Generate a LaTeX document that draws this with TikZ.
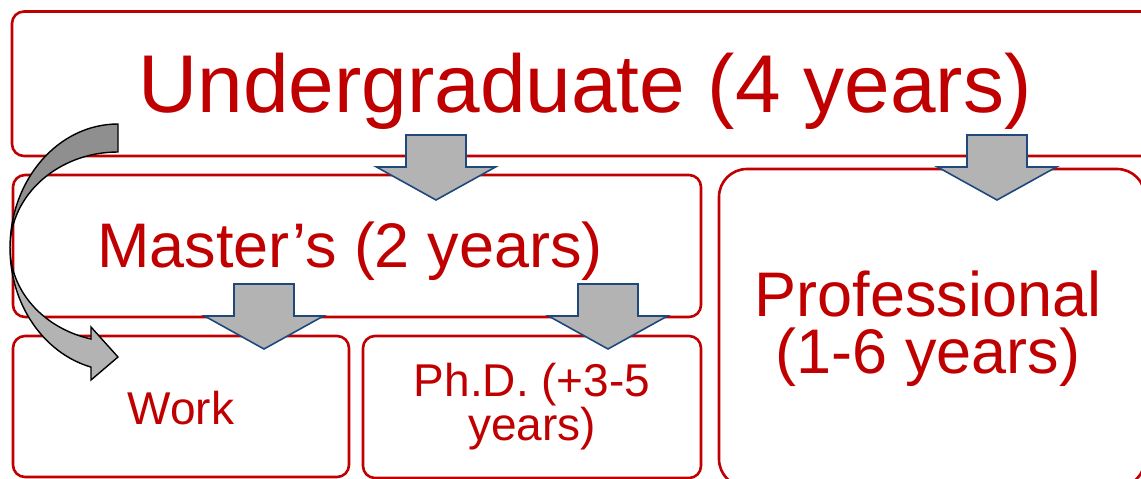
\documentclass[tikz,border=0pt]{standalone}
\usepackage{fontspec}
\setmainfont{Liberation Sans}
\usepackage{xcolor}
\usepackage{tikz}
\definecolor{stagered}{HTML}{C00000}
\definecolor{arrowblue}{HTML}{1F497D}
\definecolor{bendtop}{HTML}{8F8F8F}
\definecolor{bendlow}{HTML}{B3B3B3}

\begin{document}
\begin{tikzpicture}[
    x = 1pt,
    y = -1pt,
    stage/.style = {
      rectangle,
      draw=stagered,
      line width=2.6pt,
      rounded corners=12pt,
      anchor=north west,
      inner sep=0pt,
      outer sep=0pt
    },
    stagetext/.style = {
      text=stagered,
      anchor=base,
      align=center,
      inner sep=0pt
    },
    blockarrow/.style = {
      draw=arrowblue,
      fill=bendlow,
      line width=1.6pt,
      line join=miter
    },
    bendarrow/.style = {
      draw=black,
      line width=1.4pt,
      line join=miter
    },
    blockdown/.pic = {
      \draw[blockarrow] (-30,0) -- (30,0) -- (30,32) -- (59.5,32)
        -- (0,65) -- (-59.5,32) -- (-30,32) -- cycle;
    }
  ]
    \clip (0,0) rectangle (1141,479);

    % the stages
    \node[stage, minimum width=1148pt, minimum height=144.5pt] (ugrad) at (12,11.5) {};
    \node[stage, minimum width=688pt, minimum height=142pt] (masters) at (13,175) {};
    \node[stage, minimum width=336pt, minimum height=141pt] (work) at (13,336) {};
    \node[stage, minimum width=338pt, minimum height=142pt] (phd) at (363,336) {};
    \node[stage, minimum width=426pt, minimum height=318pt, rounded corners=28pt] (prof) at (719,169) {};

    % base of a two-line text is its last line
    \node[stagetext, font=\fontsize{82}{82}\selectfont] (ugradtext) at (585,112) {Undergraduate (4 years)};
    \node[stagetext, font=\fontsize{63}{63}\selectfont] (masterstext) at (350,267) {Master’s (2 years)};
    \node[stagetext, font=\fontsize{63}{57}\selectfont] (proftext) at (928,373) {Professional\\(1-6 years)};
    \node[stagetext, font=\fontsize{46}{46}\selectfont] (worktext) at (181,424) {Work};
    \node[stagetext, font=\fontsize{46}{42}\selectfont] (phdtext) at (532,440) {Ph.D. (+3-5\\years)};

    % block arrows between stages
    \pic (ugradmasters) at (436,135) {blockdown};
    \pic (ugradprof) at (997,135) {blockdown};
    \pic (masterswork) at (264,284) {blockdown};
    \pic (mastersphd) at (608,284) {blockdown};

    % bent arrow from undergraduate straight to work
    \draw[bendarrow, fill=bendtop] (118,124)
      arc[start angle=90, end angle=180, x radius=108pt, y radius=124pt]
      arc[start angle=180, end angle=90, x radius=108pt, y radius=96pt] -- cycle;
    \draw[bendarrow, fill=bendlow] (10,248)
      arc[start angle=180, end angle=255.5, x radius=108pt, y radius=123pt]
      -- (91,380) -- (118,357) -- (91,327) -- (91,339)
      arc[start angle=255.5, end angle=180, x radius=108pt, y radius=94pt] -- cycle;

  \end{tikzpicture}
\end{document}
